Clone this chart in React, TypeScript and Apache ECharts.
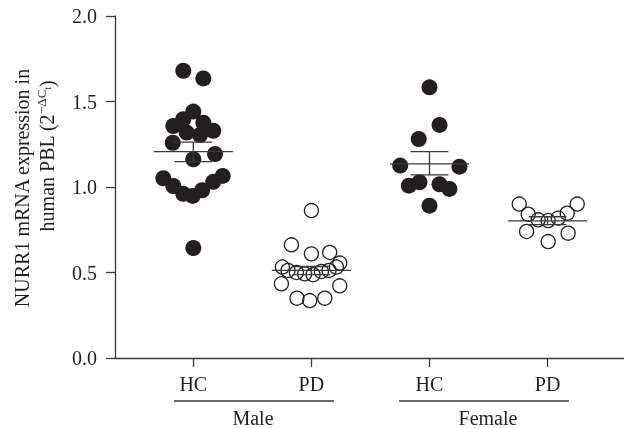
import React, { useEffect, useRef } from "react";
import * as echarts from "echarts";

// Tick labels
const yTicks = [0, 0.5, 1.0, 1.5, 2.0];
const groupCenters = [1, 2, 3, 4];
const groupLabels = ["HC", "PD", "HC", "PD"];
const sexLabels = ["Male", "Female"];

// Points: [x position (jitter), NURR1 value]
const maleHC: number[][] = [
  [0.915, 1.68], [1.085, 1.635], [1.0, 1.441], [0.915, 1.396], [1.085, 1.376],
  [0.831, 1.357], [0.944, 1.318], [1.169, 1.329], [1.057, 1.304], [0.826, 1.259],
  [1.184, 1.193], [1.0, 1.162], [0.746, 1.051], [1.249, 1.065], [0.831, 1.006],
  [1.169, 1.03], [0.915, 0.96], [0.995, 0.948], [1.075, 0.981], [1.0, 0.643],
];
const malePD: number[][] = [
  [2.0, 0.862], [1.831, 0.662], [2.0, 0.609], [2.155, 0.617], [2.24, 0.555],
  [1.754, 0.532], [1.802, 0.512], [1.873, 0.5], [1.943, 0.492], [2.014, 0.487],
  [2.085, 0.506], [2.149, 0.512], [2.212, 0.532], [1.746, 0.434], [2.24, 0.422],
  [1.878, 0.35], [1.986, 0.336], [2.113, 0.35],
];
const femaleHC: number[][] = [
  [3.0, 1.583], [3.085, 1.363], [2.909, 1.281], [2.752, 1.125], [3.254, 1.119],
  [2.825, 1.008], [2.915, 1.028], [3.085, 1.016], [3.169, 0.989], [3.0, 0.891],
];
const femalePD: number[][] = [
  [3.76, 0.9], [4.251, 0.9], [3.836, 0.841], [4.166, 0.847], [3.92, 0.808],
  [4.005, 0.804], [4.09, 0.818], [3.822, 0.74], [4.174, 0.73], [4.005, 0.681],
];

// Mean ± SEM per group
const means = [1.207, 0.512, 1.135, 0.802];
const semLow = [1.148, 0.488, 1.071, 0.78];
const semHigh = [1.262, 0.535, 1.207, 0.826];

const INK = "#231f20";
const LINE = "#3a3a3a";
const FONT = "Liberation Serif";

export default function App() {
  const ref = useRef<HTMLDivElement>(null);
  useEffect(() => {
    if (!ref.current) return;
    const chart = echarts.init(ref.current, null, { renderer: "svg" });
    const statData = groupCenters.map((c, i) => [c, means[i], semLow[i], semHigh[i]]);
    const filled = { color: INK, opacity: 1 };
    const hollow = { color: "rgba(0,0,0,0)", borderColor: INK, borderWidth: 1.3, opacity: 1 };
    chart.setOption({
      animation: false,
      grid: { left: 115, right: 0, top: 16, bottom: 70 },
      xAxis: {
        type: "value",
        min: 0.337,
        max: 4.647,
        splitLine: { show: false },
        axisLine: { show: true, onZero: false, lineStyle: { color: LINE, width: 1.3 } },
        axisTick: { show: true, customValues: groupCenters, length: 9, lineStyle: { color: LINE, width: 1.3 } },
        axisLabel: {
          customValues: groupCenters,
          margin: 16,
          color: INK,
          fontFamily: FONT,
          fontSize: 20,
          formatter: (v: number) => groupLabels[groupCenters.indexOf(Math.round(v))] ?? "",
        },
      },
      yAxis: {
        type: "value",
        min: yTicks[0],
        max: yTicks[yTicks.length - 1],
        interval: 0.5,
        splitLine: { show: false },
        axisLine: { show: true, onZero: false, lineStyle: { color: LINE, width: 1.3 } },
        axisTick: { show: true, length: 9, lineStyle: { color: LINE, width: 1.3 } },
        axisLabel: {
          margin: 18,
          color: INK,
          fontFamily: FONT,
          fontSize: 20,
          formatter: (v: number) => v.toFixed(1),
        },
      },
      series: [
        { type: "scatter", data: maleHC, symbol: "circle", symbolSize: 16, itemStyle: filled, z: 2 },
        { type: "scatter", data: malePD, symbol: "circle", symbolSize: 14, itemStyle: hollow, z: 2 },
        { type: "scatter", data: femaleHC, symbol: "circle", symbolSize: 16, itemStyle: filled, z: 2 },
        { type: "scatter", data: femalePD, symbol: "circle", symbolSize: 14, itemStyle: hollow, z: 2 },
        {
          type: "custom",
          z: 5,
          data: statData,
          renderItem: (params: any, api: any) => {
            const c = api.value(0), m = api.value(1), lo = api.value(2), hi = api.value(3);
            const hw = 0.335, hc = 0.16;
            const a = api.coord([c - hw, m]), b = api.coord([c + hw, m]);
            const u1 = api.coord([c - hc, hi]), u2 = api.coord([c + hc, hi]);
            const l1 = api.coord([c - hc, lo]), l2 = api.coord([c + hc, lo]);
            const style = { stroke: LINE, lineWidth: 1.3 };
            return {
              type: "group",
              children: [
                { type: "line", shape: { x1: a[0], y1: a[1], x2: b[0], y2: b[1] }, style },
                { type: "line", shape: { x1: u1[0], y1: u1[1], x2: u2[0], y2: u2[1] }, style },
                { type: "line", shape: { x1: l1[0], y1: l1[1], x2: l2[0], y2: l2[1] }, style },
                { type: "line", shape: { x1: (u1[0] + u2[0]) / 2, y1: u1[1], x2: (l1[0] + l2[0]) / 2, y2: l1[1] }, style },
              ],
            };
          },
        },
      ],
      graphic: [
        { type: "line", shape: { x1: 174, y1: 401, x2: 334, y2: 401 }, style: { stroke: LINE, lineWidth: 1.3 } },
        { type: "line", shape: { x1: 399, y1: 401, x2: 569, y2: 401 }, style: { stroke: LINE, lineWidth: 1.3 } },
        {
          type: "text", x: 253, y: 418,
          style: { text: sexLabels[0], fill: INK, font: `20px "${FONT}"`, textAlign: "center", textVerticalAlign: "middle" },
        },
        {
          type: "text", x: 488, y: 418,
          style: { text: sexLabels[1], fill: INK, font: `20px "${FONT}"`, textAlign: "center", textVerticalAlign: "middle" },
        },
        {
          type: "text", x: 22, y: 188, rotation: Math.PI / 2,
          style: { text: "NURR1 mRNA expression in", fill: INK, font: `20px "${FONT}"`, textAlign: "center", textVerticalAlign: "middle" },
        },
        {
          type: "text", x: 47, y: 156, rotation: Math.PI / 2,
          style: {
            text: "human PBL (2{sup|−ΔC}{sub|t})",
            fill: INK,
            font: `20px "${FONT}"`,
            fontFamily: FONT,
            fontSize: 20,
            textAlign: "center",
            textVerticalAlign: "middle",
            rich: {
              sup: { fontFamily: FONT, fontSize: 13, fill: INK, verticalAlign: "top", lineHeight: 24 },
              sub: { fontFamily: FONT, fontSize: 10, fill: INK, verticalAlign: "middle", lineHeight: 24 },
            },
          },
        },
      ],
    });
    return () => chart.dispose();
  }, []);
  return <div ref={ref} style={{ position: "fixed", left: 0, top: 0, width: 624, height: 428 }} />;
}
